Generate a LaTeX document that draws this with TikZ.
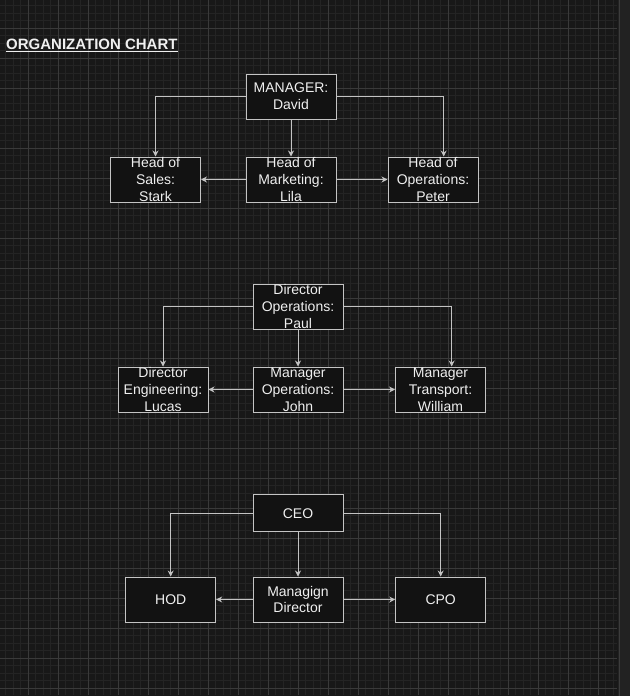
\documentclass[tikz,border=0pt]{standalone}
\usepackage{fontspec}
\setmainfont{Liberation Sans}
\usetikzlibrary{arrows.meta}
\definecolor{bgc}{HTML}{181818}
\definecolor{minorc}{HTML}{242424}
\definecolor{majorc}{HTML}{3A3A3A}
\definecolor{sidec}{HTML}{222222}
\definecolor{sidel}{HTML}{3C3C3C}
\definecolor{boxfill}{HTML}{121212}
\definecolor{boxline}{HTML}{C4C4C4}
\definecolor{txt}{HTML}{F0F0F0}
\begin{document}
\begin{tikzpicture}[x=1pt,y=-1pt,
  box/.style={draw=boxline, fill=boxfill, line width=1pt, minimum width=90pt,
    minimum height=45pt, inner sep=0pt, text=txt, align=center,
    font=\fontsize{14}{16.8}\selectfont},
  conn/.style={draw=boxline, line width=1pt,
    -{Stealth[length=6pt,width=6pt,inset=2pt]}}]
% background and grid
\fill[bgc] (0,0) rectangle (630,696);
\useasboundingbox (0,0) rectangle (630,696);
\fill[sidec] (617.5,0) rectangle (630,696);
\draw[sidel, line width=1.5pt] (619.3,0) -- (619.3,696);
\foreach \i in {0,...,81} \draw[minorc, line width=1pt] (5.8+7.5*\i,0) -- (5.8+7.5*\i,695);
\foreach \i in {0,...,91} \draw[minorc, line width=1pt] (0,5.8+7.5*\i) -- (617,5.8+7.5*\i);
\foreach \i in {0,...,19} \draw[majorc, line width=1pt] (28.3+30*\i,0) -- (28.3+30*\i,695);
\foreach \i in {0,...,22} \draw[majorc, line width=1pt] (0,28.3+30*\i) -- (617,28.3+30*\i);
% title
\node[anchor=base west, inner sep=0pt, text=txt, font=\fontsize{15}{18}\selectfont\bfseries] (title) at (6,49.3) {ORGANIZATION CHART};
\draw[txt, line width=1.3pt] ([yshift=-2.2pt]title.base west) -- ([yshift=-2.2pt]title.base east);
% group 1
\node[box] (mgr) at (291,96.5) {MANAGER:\\David};
\node[box] (sales) at (155.5,179.5) {Head of\\Sales:\\Stark};
\node[box] (mkt) at (291,179.5) {Head of\\Marketing:\\Lila};
\node[box] (ops) at (433,179.5) {Head of\\Operations:\\Peter};
\draw[conn] (mgr.west) -| (sales.north);
\draw[conn] (mgr.south) -- (mkt.north);
\draw[conn] (mgr.east) -| ([xshift=10.7pt]ops.north);
\draw[conn] (mkt.west) -- (sales.east);
\draw[conn] (mkt.east) -- (ops.west);
% group 2
\node[box] (dops) at (298,306.5) {Director\\Operations:\\Paul};
\node[box] (deng) at (163,389.5) {Director\\Engineering:\\Lucas};
\node[box] (mops) at (298,389.5) {Manager\\Operations:\\John};
\node[box] (mtr) at (440.5,389.5) {Manager\\Transport:\\William};
\draw[conn] (dops.west) -| (deng.north);
\draw[conn] (dops.south) -- (mops.north);
\draw[conn] (dops.east) -| ([xshift=11.2pt]mtr.north);
\draw[conn] (mops.west) -- (deng.east);
\draw[conn] (mops.east) -- (mtr.west);
% group 3
\node[box, minimum height=37.5pt] (ceo) at (298,513.2) {CEO};
\node[box] (hod) at (170.7,599.5) {HOD};
\node[box] (md) at (298,599.5) {Managign\\Director};
\node[box] (cpo) at (440.7,599.5) {CPO};
\draw[conn] (ceo.west) -| (hod.north);
\draw[conn] (ceo.south) -- (md.north);
\draw[conn] (ceo.east) -| (cpo.north);
\draw[conn] (md.west) -- (hod.east);
\draw[conn] (md.east) -- (cpo.west);
\end{tikzpicture}
\end{document}
